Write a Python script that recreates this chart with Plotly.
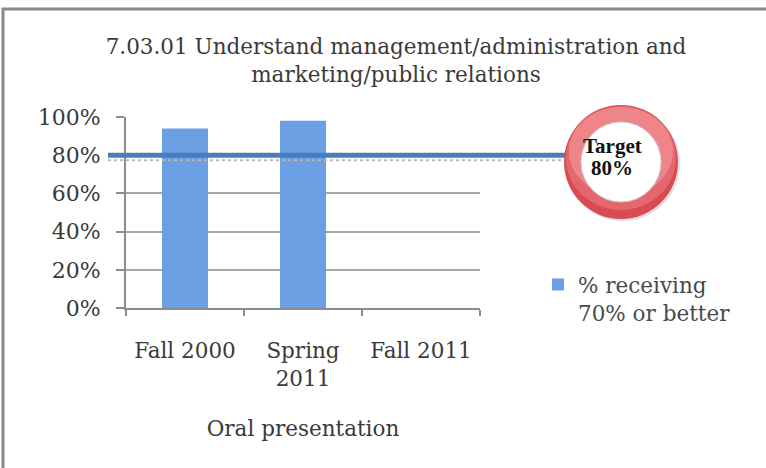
import plotly.graph_objects as go

# ---- data ----
categories = ["Fall 2000", "Spring<br>2011", "Fall 2011"]
pct_receiving = [0.94, 0.98, None]
series_name = "% receiving<br>70% or better"
target_value = 0.80
target_label_lines = ["Target", "80%"]
title_text = "7.03.01 Understand management/administration and<br>marketing/public relations"
x_title = "Oral presentation"

W, H = 766, 468
L, R, T, B = 126, 286, 117, 160
pw, ph = W - L - R, H - T - B

def px_x(p):
    return (p - L) / pw

def px_y(p):
    return (H - B - p) / ph

FONT = "DejaVu Serif"
TXT = "#3a3a3a"
FS = 21.5

fig = go.Figure()
fig.add_trace(go.Bar(
    x=categories, y=pct_receiving, name=series_name,
    marker=dict(color="#6a9fe4", line=dict(width=0)),
    width=0.39, showlegend=True,
))

shapes = []
# outer frame
shapes.append(dict(type="rect", xref="paper", yref="paper",
                   x0=px_x(3), x1=px_x(800), y0=px_y(520), y1=px_y(9),
                   line=dict(color="#8a8a8a", width=3), fillcolor="rgba(0,0,0,0)", layer="below"))
# target line shadow and line
shapes.append(dict(type="line", xref="paper", yref="y",
                   x0=px_x(108), x1=px_x(566), y0=target_value - 0.027, y1=target_value - 0.027,
                   line=dict(color="#b8b8b8", width=2, dash="dot")))
shapes.append(dict(type="line", xref="paper", yref="y",
                   x0=px_x(108), x1=px_x(566), y0=target_value, y1=target_value,
                   line=dict(color="#4a7ebb", width=5)))
# target ring (shadow, ring, inner)
cx, cy = px_x(621), px_y(162)
def circ(x0, x1, y0, y1, fill, line=None):
    return dict(type="circle", xref="paper", yref="paper", xsizemode="pixel", ysizemode="pixel",
                xanchor=cx, yanchor=cy, x0=x0, x1=x1, y0=y0, y1=y1,
                fillcolor=fill, line=line or dict(width=0))
shapes.append(circ(-55, 59, -59, 55, "rgba(0,0,0,0.12)"))
shapes.append(circ(-57, 57, -57, 57, "#d94b52"))
shapes.append(circ(-55, 55, -48, 56, "#e4676d"))
shapes.append(circ(-52, 52, -34, 55, "#ee8589"))
shapes.append(circ(-40, 40, -40, 40, "white", dict(color="#d0d0d0", width=1)))

annotations = []
for txt, ypx in zip(target_label_lines, [146, 168]):
    annotations.append(dict(text="<b>" + txt + "</b>", xref="paper", yref="paper",
                            x=px_x(612), y=px_y(ypx), xanchor="center", yanchor="middle",
                            showarrow=False,
                            font=dict(family="Liberation Serif", size=21, color="#111111")))

fig.update_layout(
    width=W, height=H,
    margin=dict(l=L, r=R, t=T, b=B, pad=0),
    paper_bgcolor="white", plot_bgcolor="white",
    font=dict(family=FONT, color=TXT, size=FS),
    title=dict(text=title_text, x=396 / W, xanchor="center", y=1 - 54 / H, yanchor="middle",
               font=dict(family=FONT, size=FS, color=TXT)),
    showlegend=True,
    legend=dict(x=px_x(538), y=px_y(264), xanchor="left", yanchor="top",
                font=dict(family=FONT, size=FS, color="#4a4a4a"), valign="top",
                bgcolor="rgba(0,0,0,0)", tracegroupgap=0),
    bargap=0.61,
    shapes=shapes,
    annotations=annotations,
)
fig.update_xaxes(
    type="category", tickson="boundaries", ticks="outside", ticklen=6, tickcolor="#8c8c8c",
    tickwidth=2, showline=True, linecolor="#8c8c8c", linewidth=2, showgrid=False,
    tickfont=dict(family=FONT, size=FS, color=TXT), ticklabelstandoff=22,
    title=dict(text=x_title, font=dict(family=FONT, size=FS, color=TXT), standoff=31),
)
fig.update_yaxes(
    range=[0, 1], dtick=0.2, tickformat=".0%", ticks="outside", ticklen=8, tickcolor="#8c8c8c",
    tickwidth=2, showline=True, linecolor="#8c8c8c", linewidth=2,
    showgrid=True, gridcolor="#a8a8a8", gridwidth=2, zeroline=False,
    tickfont=dict(family=FONT, size=22, color=TXT), ticklabelstandoff=11,
)

fig.write_html("out.html", config={"displayModeBar": False},
               post_script="document.body.style.margin='0';")
